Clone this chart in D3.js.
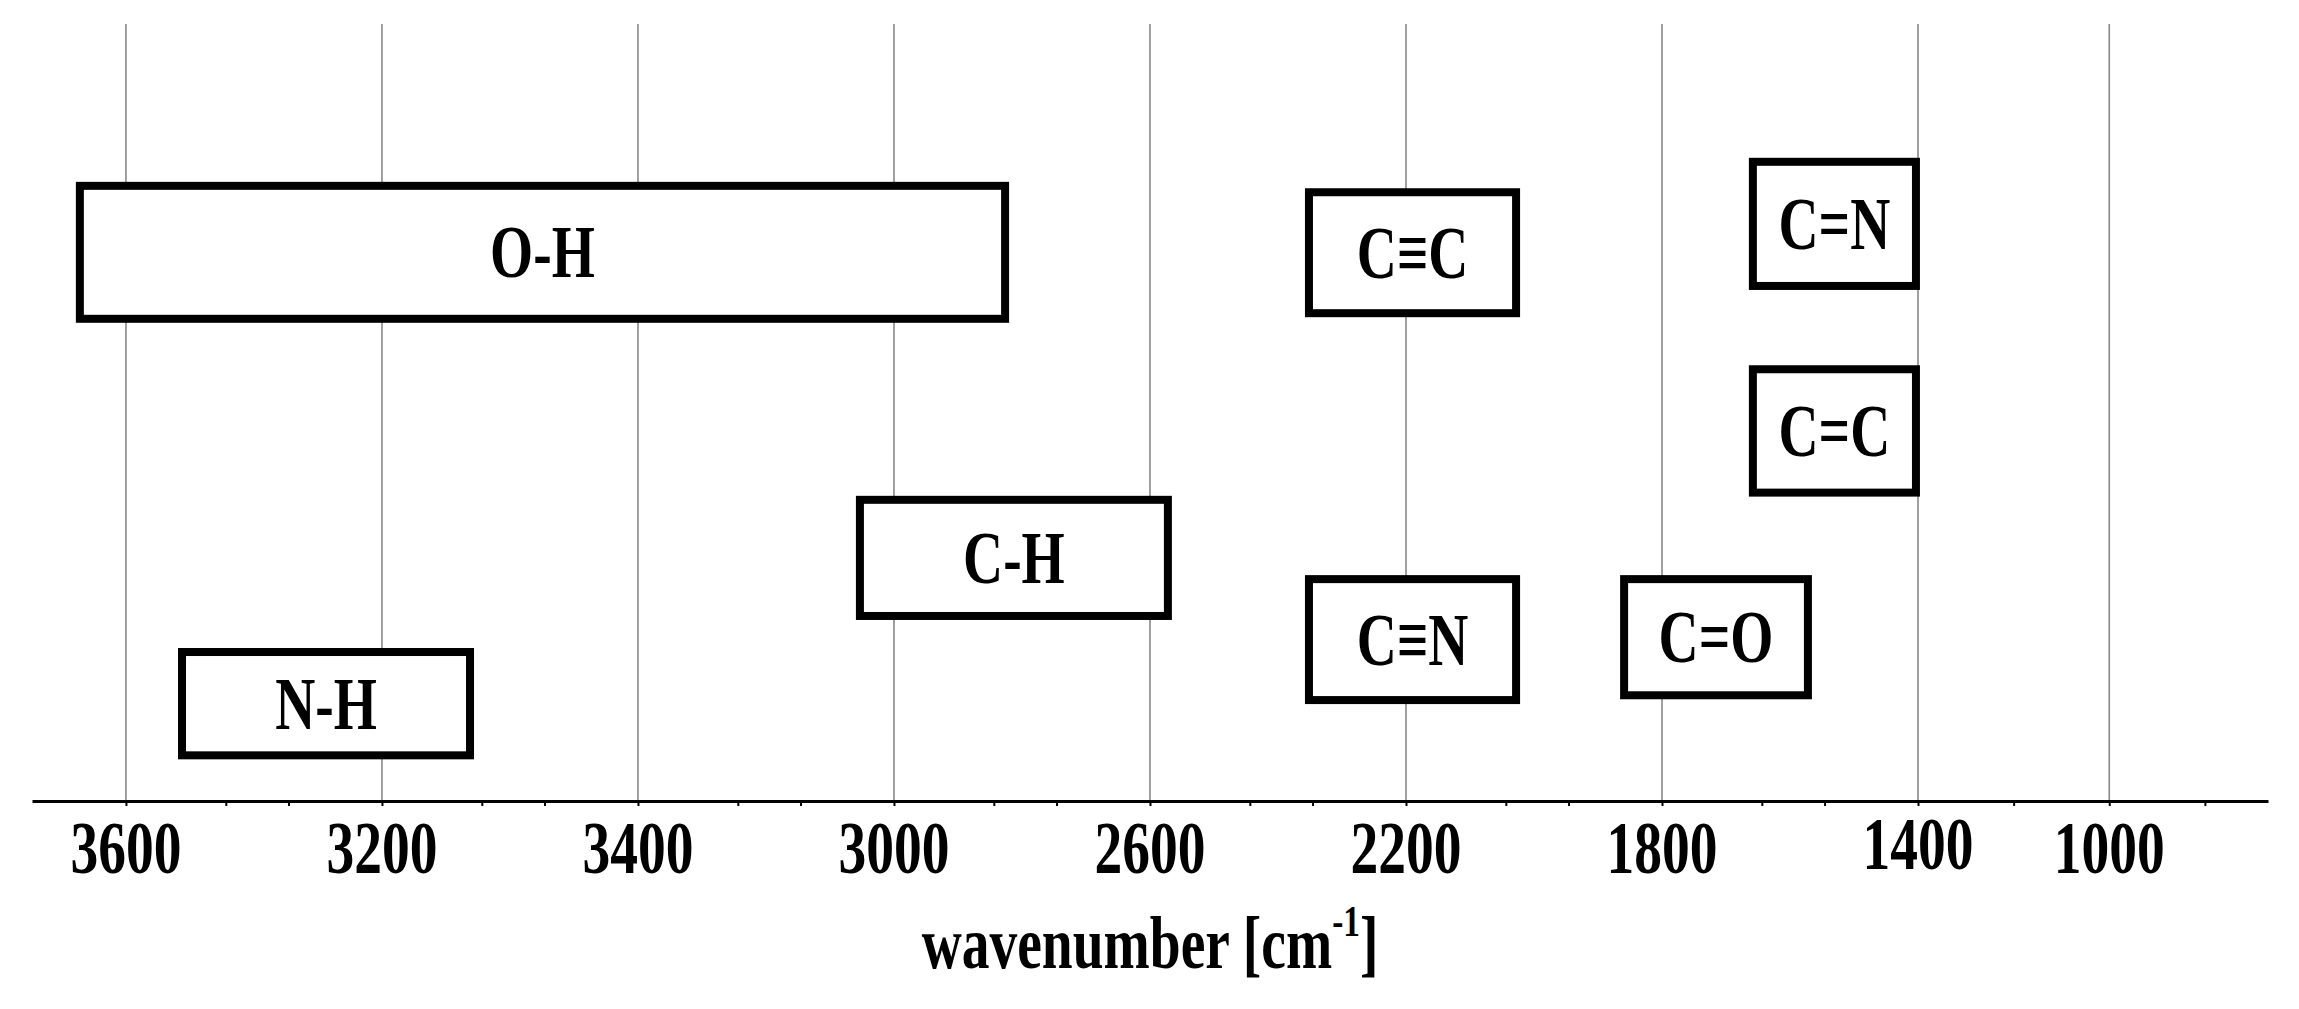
<!DOCTYPE html>
<html lang="en">
<head>
    <meta charset="UTF-8">
    <title>IR absorption regions</title>
    <script src="https://d3js.org/d3.v7.min.js"></script>
    <style>
        body {
            margin: 0;
            background: #fff;
        }
        svg {
            display: block;
        }
        .lbl {
            font-family: "Liberation Serif", "Times New Roman", serif;
            font-weight: bold;
            fill: #000;
        }
    </style>
</head>
<body>
    <div id="chart"></div>

    <script>
        // axis: major gridlines sit at integer positions 0..8, the last gap is shorter
        const tickLabels = ["3600", "3200", "3400", "3000", "2600", "2200", "1800", "1400", "1000"];
        const majorTicks = [0, 1, 2, 3, 4, 5, 6, 7, 8];
        const minorTicks = [0.39, 0.635, 1.39, 1.635, 2.39, 2.635, 3.39, 3.635, 4.39, 4.635,
                            5.39, 5.635, 6.39, 6.635, 7.5, 8.5];
        const xDomain = [-0.367, 7, 8.83];

        // bond regions: left / right edge in axis units, top / bottom in row units (0..100)
        const bonds   = ["O-H", "C≡C", "C=N", "C=C", "C-H", "C≡N", "C=O", "N-H"];
        const xStart  = [-0.18, 4.621, 6.355, 6.355, 2.867, 4.621, 5.852, 0.219];
        const xEnd    = [3.434, 5.43, 6.992, 6.992, 4.07, 5.43, 6.57, 1.344];
        const yTop    = [76.8, 76.0, 79.8, 53.9, 37.6, 27.7, 27.7, 18.6];
        const yBottom = [60.2, 60.9, 64.3, 38.5, 23.1, 12.6, 13.2, 5.7];

        const width = 2299, height = 1009;
        const squeeze = 0.74;   // figure text is narrow, like the original

        const x = d3.scaleLinear().domain(xDomain).range([32, 1918, 2268]);
        const y = d3.scaleLinear().domain([0, 100]).range([801, 0]);

        const svg = d3.select("#chart").append("svg")
            .attr("width", width).attr("height", height);

        svg.append("rect").attr("width", width).attr("height", height).attr("fill", "#fff");

        // gridlines
        svg.append("g")
            .selectAll("line")
            .data(majorTicks)
            .enter().append("line")
            .attr("x1", d => x(d)).attr("x2", d => x(d))
            .attr("y1", y(97)).attr("y2", y(0))
            .attr("stroke", "#888").attr("stroke-width", 1.6);

        // axis with major + minor ticks
        const axis = svg.append("g")
            .attr("transform", `translate(0,${y(0)})`)
            .call(d3.axisBottom(x)
                .tickValues(majorTicks.concat(minorTicks))
                .tickSize(5)
                .tickSizeOuter(0)
                .tickFormat(""));
        axis.select(".domain").attr("stroke", "#000").attr("stroke-width", 3);
        axis.selectAll(".tick line").attr("stroke", "#000").attr("stroke-width", 2);

        // tick labels
        svg.append("g")
            .selectAll("text")
            .data(majorTicks)
            .enter().append("text")
            .attr("class", "lbl")
            .attr("text-anchor", "middle")
            .attr("font-size", 75)
            .attr("transform", (d, i) => `translate(${x(d)},${tickLabels[i] === "1400" ? 869 : 873}) scale(${squeeze},1)`)
            .text((d, i) => tickLabels[i]);

        // axis title
        const title = svg.append("text")
            .attr("class", "lbl")
            .attr("text-anchor", "middle")
            .attr("font-size", 75)
            .attr("transform", `translate(${(x(xDomain[0]) + x(xDomain[2])) / 2},968) scale(${squeeze},1)`);
        title.append("tspan").text("wavenumber [cm");
        title.append("tspan").attr("font-size", 45).attr("dy", -32).text("-1");
        title.append("tspan").attr("dy", 32).text("]");

        // boxes
        const boxes = svg.append("g")
            .selectAll("g")
            .data(bonds)
            .enter().append("g");

        boxes.append("rect")
            .attr("x", (d, i) => x(xStart[i]))
            .attr("y", (d, i) => y(yTop[i]))
            .attr("width", (d, i) => x(xEnd[i]) - x(xStart[i]))
            .attr("height", (d, i) => y(yBottom[i]) - y(yTop[i]))
            .attr("fill", "#fff")
            .attr("stroke", "#000")
            .attr("stroke-width", 8);

        boxes.append("text")
            .attr("class", "lbl")
            .attr("text-anchor", "middle")
            .attr("font-size", 75)
            .attr("transform", (d, i) => {
                const cx = (x(xStart[i]) + x(xEnd[i])) / 2;
                const cy = (y(yTop[i]) + y(yBottom[i])) / 2;
                return `translate(${cx},${cy + 25}) scale(${squeeze},1)`;
            })
            .text(d => d);
    </script>
</body>
</html>
